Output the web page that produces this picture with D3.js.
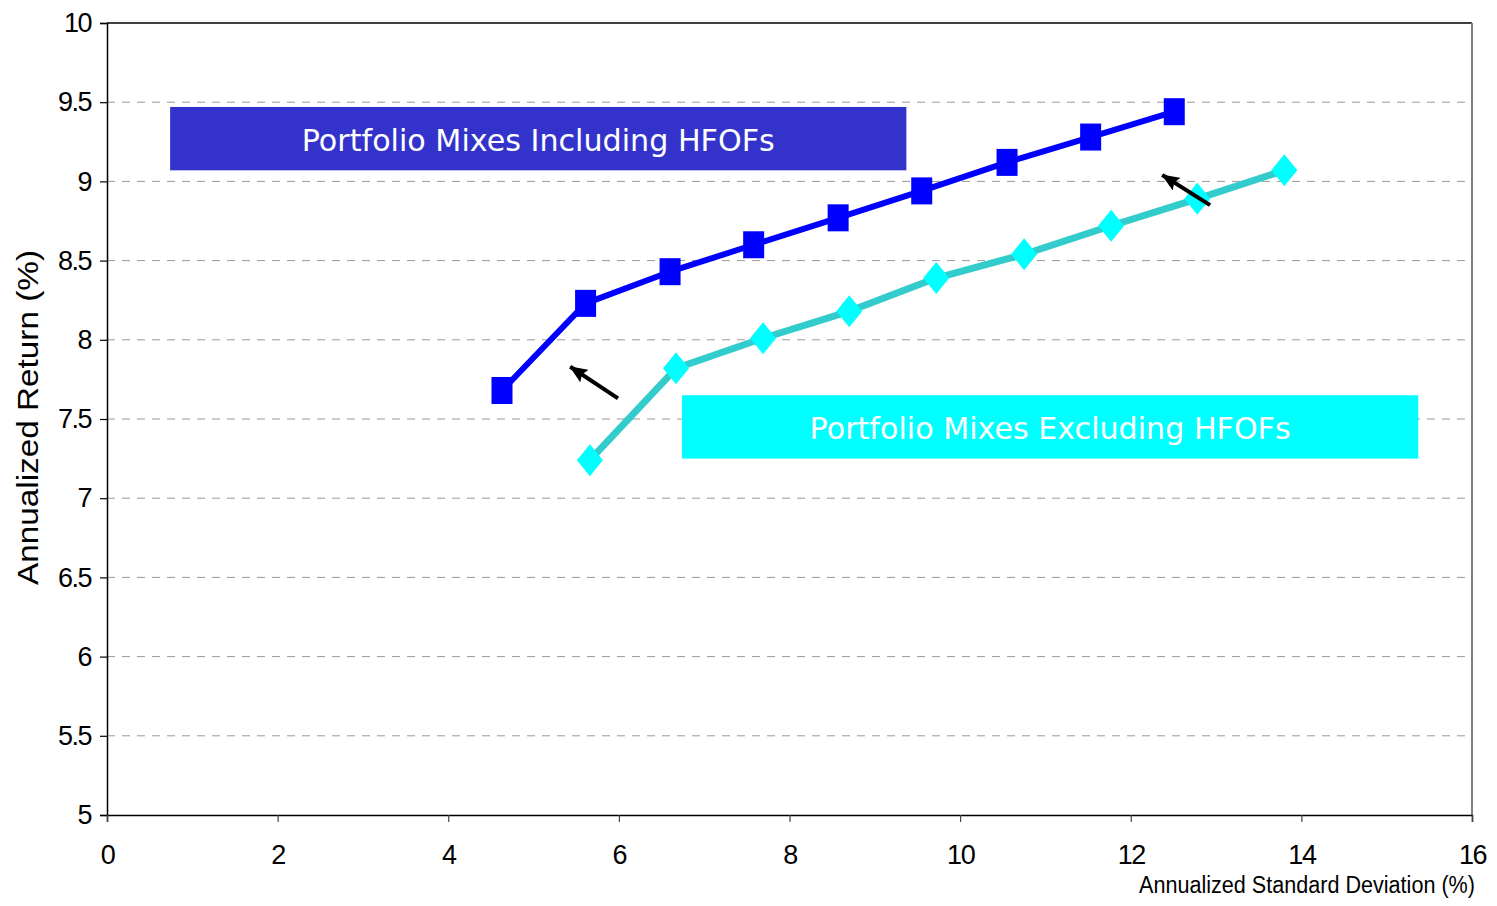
<!DOCTYPE html>
<html>
<head>
<meta charset="utf-8">
<script src="https://cdn.jsdelivr.net/npm/d3@7"></script>
<style>
  body { margin: 0; background: #fff; }
  svg { display: block; }
</style>
</head>
<body>
<svg id="chart" width="1497" height="906"></svg>
<script>
// Efficient-frontier points: annualized standard deviation (%) vs annualized return (%)
const withHfofStd    = [4.63, 5.61, 6.60, 7.58, 8.57, 9.55, 10.55, 11.53, 12.51];
const withHfofRet    = [7.68, 8.23, 8.43, 8.60, 8.77, 8.94, 9.12, 9.28, 9.44];
const withoutHfofStd = [5.66, 6.67, 7.69, 8.70, 9.72, 10.75, 11.77, 12.78, 13.80];
const withoutHfofRet = [7.24, 7.82, 8.01, 8.18, 8.39, 8.54, 8.72, 8.89, 9.07];

const xTicks = [0, 2, 4, 6, 8, 10, 12, 14, 16];
const yTicks = [5, 5.5, 6, 6.5, 7, 7.5, 8, 8.5, 9, 9.5, 10];
const yTickLabels = ["5", "5.5", "6", "6.5", "7", "7.5", "8", "8.5", "9", "9.5", "10"];

const seriesNames = ["Portfolio Mixes Including HFOFs", "Portfolio Mixes Excluding HFOFs"];
const xTitle = "Annualized Standard Deviation (%)";
const yTitle = "Annualized Return (%)";

// Label boxes (x0, x1, y0, y1 in data units) and arrows (from -> to in data units)
const labelBoxes = [
  [0.74, 9.37, 9.47, 9.07],
  [6.74, 15.37, 7.65, 7.25]
];
const arrows = [
  [[5.99, 7.63], [5.43, 7.83]],
  [[12.93, 8.85], [12.37, 9.04]]
];

const svg = d3.select("#chart");
const plotLeft = 107, plotRight = 1472, plotTop = 23, plotBottom = 815;

const x = d3.scaleLinear().domain([0, 16]).range([plotLeft, plotRight]);
const y = d3.scaleLinear().domain([5, 10]).range([plotBottom, plotTop]);

// Horizontal dashed gridlines
svg.append("g")
  .selectAll("line")
  .data(yTicks.filter(v => v > 5 && v < 10))
  .join("line")
  .attr("x1", plotLeft).attr("x2", plotRight - 1)
  .attr("y1", d => y(d)).attr("y2", d => y(d))
  .attr("stroke", "#9a9a9a")
  .attr("stroke-width", 1)
  .attr("stroke-dasharray", "8,7");

// Plot frame: top solid black, right grey
svg.append("line")
  .attr("x1", plotLeft).attr("x2", plotRight)
  .attr("y1", y(10)).attr("y2", y(10))
  .attr("stroke", "#000").attr("stroke-width", 1.5);
svg.append("line")
  .attr("x1", plotRight).attr("x2", plotRight)
  .attr("y1", y(10)).attr("y2", plotBottom)
  .attr("stroke", "#808080").attr("stroke-width", 2);

// Axes
const yAxis = d3.axisLeft(y)
  .tickValues(yTicks)
  .tickFormat((d, i) => yTickLabels[i])
  .tickSize(7)
  .tickPadding(9);
const gy = svg.append("g").attr("transform", `translate(${plotLeft},0)`).call(yAxis);
gy.select(".domain").attr("stroke", "#000").attr("stroke-width", 1.5);
gy.selectAll(".tick line").attr("stroke", "#000").attr("stroke-width", 1.2);
gy.selectAll(".tick text")
  .attr("font-family", "'Liberation Sans', Arial, sans-serif")
  .attr("font-size", 27)
  .attr("letter-spacing", -1.5)
  .attr("fill", "#000");

const xAxis = d3.axisBottom(x)
  .tickValues(xTicks)
  .tickFormat(d3.format("d"))
  .tickSize(7)
  .tickPadding(23);
const gx = svg.append("g").attr("transform", `translate(0,${plotBottom})`).call(xAxis);
gx.select(".domain").attr("stroke", "#000").attr("stroke-width", 1.5);
gx.selectAll(".tick line").attr("stroke", "#444").attr("stroke-width", 1.2);
gx.selectAll(".tick text")
  .attr("font-family", "'Liberation Sans', Arial, sans-serif")
  .attr("font-size", 27)
  .attr("letter-spacing", -1.5)
  .attr("fill", "#000");

// Axis titles
svg.append("text")
  .attr("x", 1475).attr("y", 893)
  .attr("text-anchor", "end")
  .attr("font-family", "'Liberation Sans', Arial, sans-serif")
  .attr("font-size", 23)
  .attr("textLength", 336)
  .attr("lengthAdjust", "spacingAndGlyphs")
  .text(xTitle);

svg.append("text")
  .attr("transform", `translate(38,${(250 + 585) / 2}) rotate(-90)`)
  .attr("text-anchor", "middle")
  .attr("font-family", "'Liberation Sans', Arial, sans-serif")
  .attr("font-size", 30)
  .attr("textLength", 335)
  .attr("lengthAdjust", "spacingAndGlyphs")
  .text(yTitle);

// Series
const series = [
  { xs: withHfofStd, ys: withHfofRet, line: "#0000ff", fill: "#0000ff", width: 6, shape: "square" },
  { xs: withoutHfofStd, ys: withoutHfofRet, line: "#33cccc", fill: "#00ffff", width: 7, shape: "diamond" }
];

const lineGen = d3.line().x(d => x(d[0])).y(d => y(d[1]));

series.forEach(s => {
  const pts = s.xs.map((v, i) => [v, s.ys[i]]);
  svg.append("path")
    .datum(pts)
    .attr("d", lineGen)
    .attr("fill", "none")
    .attr("stroke", s.line)
    .attr("stroke-width", s.width)
    .attr("stroke-linejoin", "round");

  const g = svg.append("g");
  if (s.shape === "square") {
    g.selectAll("rect")
      .data(pts)
      .join("rect")
      .attr("x", d => x(d[0]) - 10.5)
      .attr("y", d => y(d[1]) - 13.5)
      .attr("width", 21)
      .attr("height", 27)
      .attr("fill", s.fill);
  } else {
    g.selectAll("path")
      .data(pts)
      .join("path")
      .attr("transform", d => `translate(${x(d[0])},${y(d[1])})`)
      .attr("d", "M0,-16L13,0L0,16L-13,0Z")
      .attr("fill", s.fill);
  }
});

// Series label boxes
const boxFills = ["#3333cc", "#00ffff"];
labelBoxes.forEach((b, i) => {
  const bx = x(b[0]), bw = x(b[1]) - x(b[0]);
  const by = y(b[2]), bh = y(b[3]) - y(b[2]);
  svg.append("rect")
    .attr("x", bx).attr("y", by)
    .attr("width", bw).attr("height", bh)
    .attr("fill", boxFills[i]);
  svg.append("text")
    .attr("x", bx + bw / 2)
    .attr("y", by + bh / 2 + 12)
    .attr("text-anchor", "middle")
    .attr("font-family", "'DejaVu Sans', Verdana, sans-serif")
    .attr("font-size", 30)
    .attr("textLength", i === 0 ? 473 : 481)
    .attr("lengthAdjust", "spacingAndGlyphs")
    .attr("fill", "#fff")
    .text(seriesNames[i]);
});

// Arrows
svg.append("defs").append("marker")
  .attr("id", "arrowhead")
  .attr("markerUnits", "userSpaceOnUse")
  .attr("viewBox", "0 0 18 15")
  .attr("refX", 17).attr("refY", 7.5)
  .attr("markerWidth", 18).attr("markerHeight", 15)
  .attr("orient", "auto")
  .append("path")
  .attr("d", "M0,0L18,7.5L0,15L3,7.5Z")
  .attr("fill", "#000");

svg.append("g")
  .selectAll("line")
  .data(arrows)
  .join("line")
  .attr("x1", d => x(d[0][0])).attr("y1", d => y(d[0][1]))
  .attr("x2", d => x(d[1][0])).attr("y2", d => y(d[1][1]))
  .attr("stroke", "#000")
  .attr("stroke-width", 4)
  .attr("marker-end", "url(#arrowhead)");
</script>
</body>
</html>
